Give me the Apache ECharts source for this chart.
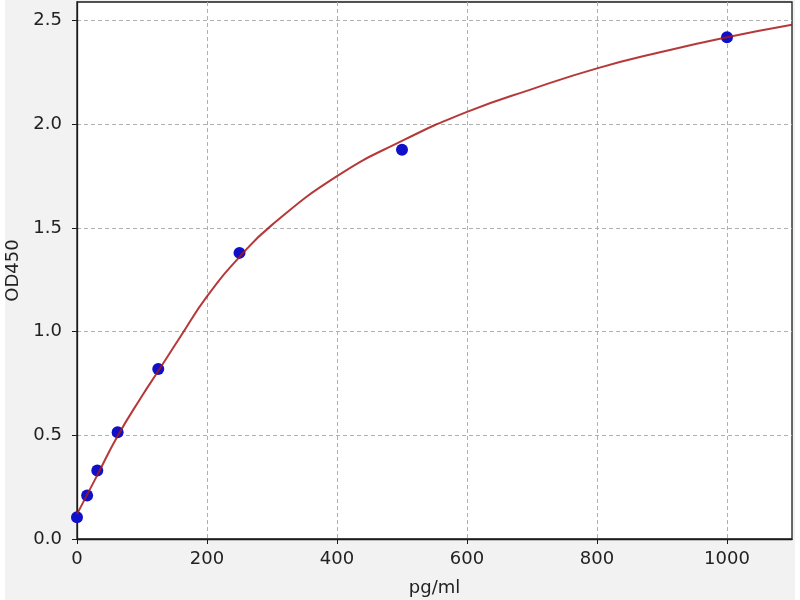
<!DOCTYPE html>
<html>
<head>
<meta charset="utf-8">
<script src="https://cdn.jsdelivr.net/npm/echarts@6/dist/echarts.min.js"></script>
<style>
  html, body { margin: 0; padding: 0; background: #ffffff; }
  #chart { position: absolute; left: 5px; top: 0; width: 790px; height: 600px; background: #f2f2f2; }
</style>
</head>
<body>
<div id="chart"></div>
<script>
// standards (pg/ml) and measured OD450
const stdConc = [0, 15.6, 31.25, 62.5, 125, 250, 500, 1000];
const stdOD = [0.105, 0.21, 0.33, 0.515, 0.82, 1.38, 1.877, 2.42];

// fitted curve
const curveConc = [0, 15.6, 31.25, 62.5, 100, 125, 160, 200, 250, 300, 400, 500, 600, 700, 800, 900, 1000, 1100];
const curveOD = [0.12, 0.214, 0.308, 0.497, 0.69, 0.81, 0.98, 1.17, 1.36, 1.515, 1.75, 1.92, 2.06, 2.17, 2.27, 2.35, 2.42, 2.48];

const xTicks = [0, 200, 400, 600, 800, 1000];
const yTicks = [0, 0.5, 1, 1.5, 2, 2.5];

const font = 'DejaVu Sans';
const chart = echarts.init(document.getElementById('chart'));

const gridLine = { show: true, lineStyle: { color: '#b0b0b0', type: [4, 3], width: 1 } };

chart.setOption({
  animation: false,
  grid: {
    left: 72, right: 3, top: 2, bottom: 61,
    outerBoundsMode: 'none', containLabel: false,
    show: true, backgroundColor: '#ffffff', borderColor: '#1a1a1a', borderWidth: 1.3
  },
  xAxis: {
    type: 'value',
    min: 0, max: 1100,
    name: 'pg/ml', nameLocation: 'middle', nameGap: 40,
    nameTextStyle: { fontFamily: font, fontSize: 18, color: '#222' },
    axisLine: { show: true, onZero: false, lineStyle: { color: '#1a1a1a', width: 1.3 } },
    axisTick: { show: true, length: 5, customValues: xTicks, lineStyle: { color: '#1a1a1a' } },
    axisLabel: {
      customValues: xTicks, margin: 11, fontFamily: font, fontSize: 18, color: '#222',
      formatter: v => String(v)
    },
    splitLine: gridLine
  },
  yAxis: {
    type: 'value',
    min: 0, max: 2.59,
    name: 'OD450', nameLocation: 'middle', nameGap: 53,
    nameTextStyle: { fontFamily: font, fontSize: 18, color: '#222' },
    axisLine: { show: true, onZero: false, lineStyle: { color: '#1a1a1a', width: 1.3 } },
    axisTick: { show: true, length: 5, customValues: yTicks, lineStyle: { color: '#1a1a1a' } },
    axisLabel: {
      customValues: yTicks, margin: 15, fontFamily: font, fontSize: 18, color: '#222',
      formatter: v => v.toFixed(1)
    },
    splitLine: gridLine
  },
  series: [
    {
      type: 'scatter',
      data: stdConc.map((c, i) => [c, stdOD[i]]),
      symbolSize: 12,
      itemStyle: { color: '#1010c8', opacity: 1 },
      z: 2
    },
    {
      type: 'line',
      data: curveConc.map((c, i) => [c, curveOD[i]]),
      smooth: 0.5,
      showSymbol: false,
      lineStyle: { color: '#a81616', width: 2, opacity: 0.85 },
      z: 3
    }
  ]
});
</script>
</body>
</html>
